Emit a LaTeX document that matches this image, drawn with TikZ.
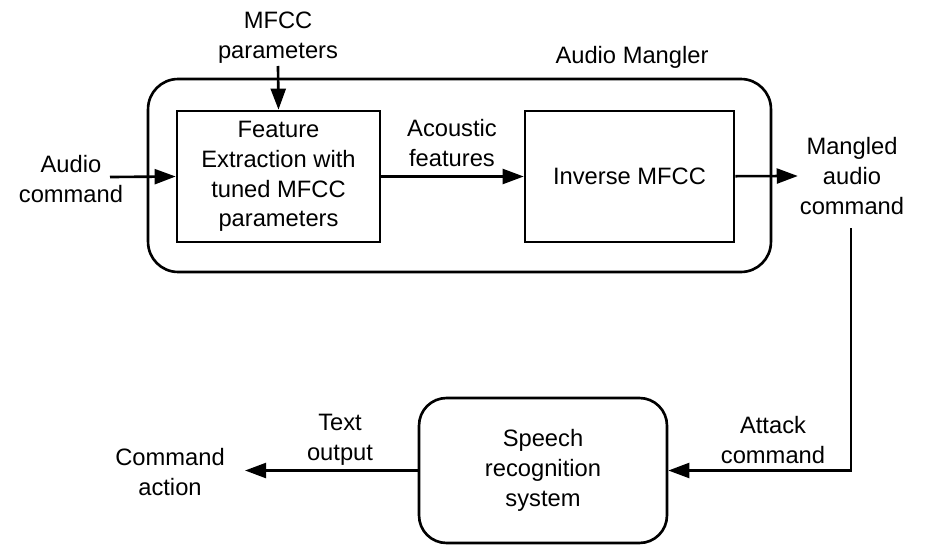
\documentclass[tikz,border=0pt]{standalone}
\usepackage{fontspec}
\setmainfont{Liberation Sans}
\usetikzlibrary{arrows.meta,positioning}
\newcommand{\diagfont}{\fontsize{13.5}{16.9}\selectfont}

\begin{document}
\begin{tikzpicture}[
      x=0.02cm, y=-0.02cm,
      box/.style={draw, line width=1.5pt, text centered, align=center, font=\diagfont},
      lbl/.style={align=center, font=\diagfont, inner sep=1pt},
      arr/.style={-{Triangle[length=12pt,width=8.5pt]}, line width=1.5pt}
    ]
      \useasboundingbox (0,0) rectangle (929,554);

      % audio mangler block
      \node[box, rounded corners=0.6cm, minimum width=12.46cm, minimum height=3.86cm] (mangler) at (459.5,175.5) {};
      \node[lbl] (manglername) at (632,57) {Audio Mangler};
      \node[box, minimum width=4.06cm, minimum height=2.62cm] (feature) at (278.5,176.5)
        {Feature\\Extraction with\\tuned MFCC\\parameters};
      \node[box, minimum width=4.18cm, minimum height=2.62cm] (inverse) at (629.5,176.5) {Inverse MFCC};

      % speech recognition block
      \node[box, rounded corners=0.55cm, minimum width=4.96cm, minimum height=2.9cm] (speech) at (543,470.5)
        {Speech\\recognition\\system};

      % labels
      \node[lbl] (mfccparams) at (278,38) {MFCC\\parameters};
      \node[lbl] (audiocmd) at (71,179) {Audio\\command};
      \node[lbl] (acoustic) at (452,143) {Acoustic\\features};
      \node[lbl] (mangled) at (852,176) {Mangled\\audio\\command};
      \node[lbl] (attack) at (773,440) {Attack\\command};
      \node[lbl] (textout) at (340,440) {Text\\output};
      \node[lbl] (action) at (170,472) {Command\\action};

      \coordinate (mfccin) at (278,66);
      \coordinate (audioin) at (110,177);
      \coordinate (drop) at (851,228);
      \coordinate (actionin) at (245,470.5);

      \draw[arr] (mfccin) -- (feature.north);
      \draw[arr] (audioin) -- (feature.west);
      \draw[arr] (feature) -- (inverse);
      \draw[arr] (inverse) -- (mangled.west);
      \draw[arr] (drop) |- (speech.east);
      \draw[arr] (speech) -- (actionin);
    \end{tikzpicture}
\end{document}
